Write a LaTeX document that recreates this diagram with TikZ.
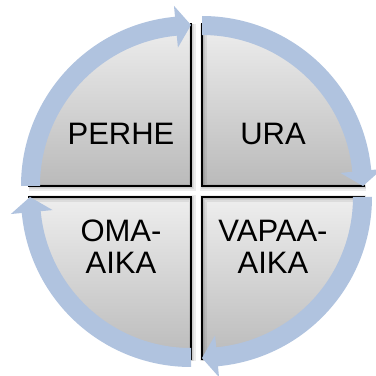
\documentclass[tikz,border=0pt]{standalone}
\usepackage{fontspec}
\setmainfont{Liberation Sans}
\definecolor{bandblue}{RGB}{176,195,223}
\definecolor{seclight}{RGB}{238,238,238}
\definecolor{secdark}{RGB}{186,186,186}
\tikzset{
  band/.style={fill=bandblue},
  sector/.style={top color=seclight,bottom color=secdark},
  edgeline/.style={draw=black,line width=1.8pt},
  shadowline/.style={draw=black,opacity=0.07,line width=#1},
  lbl/.style={font=\fontsize{31}{32}\selectfont,align=center,inner sep=0pt}
}
% #1,#2 corner; #3 start angle of sector (band start), sector spans #3-90..#3
\newcommand\quadpiece[3]{%
\begin{scope}[shift={(#1,#2)}]
  \path[sector] (0,0) -- ({#3}:163) arc[start angle={#3}, end angle={#3-90}, radius=163] -- cycle;
  \foreach \w in {7pt,4pt,2.5pt}{
    \draw[shadowline=\w,shift={(1.2,-1.2)}] ({#3}:163) -- (0,0) -- ({#3-90}:163);
  }
  \draw[edgeline] ({#3}:163) -- (0,0) -- ({#3-90}:163);
  \fill[band] ({#3}:170) arc[start angle={#3}, end angle={#3-84.6}, radius=170]
     -- ({#3-84.6}:181) -- ({#3-90}:161) -- ({#3-84.6}:139) -- ({#3-84.6}:151)
     arc[start angle={#3-84.6}, end angle={#3}, radius=151] -- cycle;
\end{scope}}
\begin{document}
\begin{tikzpicture}[x=1pt,y=1pt]
\useasboundingbox (0,0) rectangle (376,376);
\quadpiece{191}{190}{180}
\quadpiece{202}{190}{90}
\quadpiece{202}{179}{0}
\quadpiece{191}{179}{270}
\node[lbl,anchor=base] (perhe) at (121,231) {PERHE};
\node[lbl,anchor=base] (ura) at (273,231) {URA};
\node[lbl] (oma) at (121,129) {OMA-\\AIKA};
\node[lbl] (vapaa) at (273,129) {VAPAA-\\AIKA};
\end{tikzpicture}
\end{document}
